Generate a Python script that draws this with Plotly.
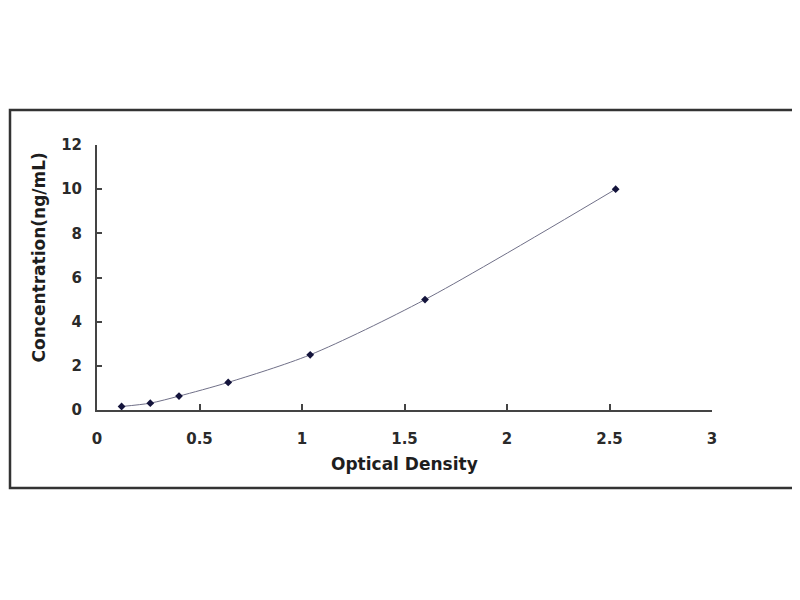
import plotly.graph_objects as go

# standard curve readings
optical_density = [0.12, 0.26, 0.40, 0.64, 1.04, 1.60, 2.53]
concentration = [0.16, 0.31, 0.63, 1.25, 2.5, 5.0, 10.0]

x_ticks = [0, 0.5, 1, 1.5, 2, 2.5, 3]
x_tick_labels = ["0", "0.5", "1", "1.5", "2", "2.5", "3"]
y_ticks = [0, 2, 4, 6, 8, 10, 12]

fig = go.Figure()
fig.add_trace(go.Scatter(x=optical_density, y=concentration, mode="lines",
                         line=dict(color="#707088", width=1, shape="spline", smoothing=0.8),
                         hoverinfo="skip", showlegend=False))
fig.add_trace(go.Scatter(x=optical_density, y=concentration, mode="markers",
                         marker=dict(symbol="diamond", size=6, color="#14143c"),
                         showlegend=False))

tick_font = dict(family="DejaVu Sans", size=15, color="#2a2a2a")
title_font = dict(family="DejaVu Sans", size=17, color="#1e1e1e")

# page body adds 8px, so margins are shifted to keep the plot area in place
fig.update_layout(
    width=800, height=600,
    paper_bgcolor="#ffffff", plot_bgcolor="#ffffff",
    margin=dict(l=89, r=96, t=137, b=198),
    xaxis=dict(range=[0, 3], tickvals=x_ticks, ticktext=["<b>%s</b>" % t for t in x_tick_labels],
               ticks="inside", ticklen=6, tickwidth=2, tickcolor="#444444", ticklabelstandoff=14,
               showline=True, linecolor="#444444", linewidth=2, showgrid=False, zeroline=False,
               tickfont=tick_font),
    yaxis=dict(range=[0, 12], tickvals=y_ticks, ticktext=["<b>%d</b>" % t for t in y_ticks],
               ticks="inside", ticklen=5, tickwidth=2, tickcolor="#444444", ticklabelstandoff=10,
               showline=True, linecolor="#444444", linewidth=2, showgrid=False, zeroline=False,
               tickfont=tick_font),
    annotations=[
        dict(text="<b>Optical Density</b>", xref="paper", yref="paper", x=0.5, y=-0.204,
             xanchor="center", yanchor="middle", showarrow=False, font=title_font),
        dict(text="<b>Concentration(ng/mL)</b>", xref="paper", yref="paper", x=-58.5 / 615, y=0.574,
             xanchor="center", yanchor="middle", textangle=-90, showarrow=False, font=title_font),
    ],
    shapes=[dict(type="rect", xref="paper", yref="paper",
                 x0=-87 / 615, x1=1 + 85 / 615, y0=-78 / 265, y1=1 + 35 / 265,
                 line=dict(color="#333333", width=2.5))],
)

fig.write_html("out.html")
